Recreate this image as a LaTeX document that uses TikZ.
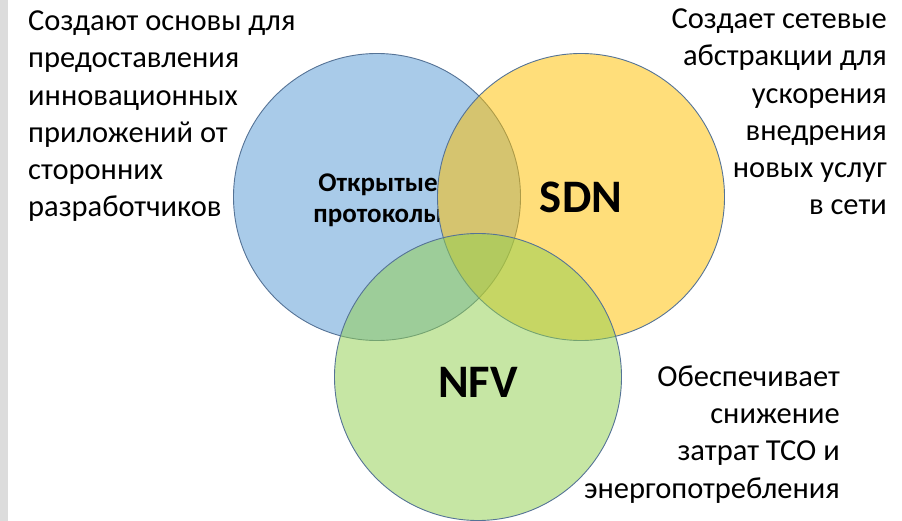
\documentclass[tikz,border=0pt]{standalone}
\usepackage{fontspec}
\setmainfont{Carlito}
\usetikzlibrary{positioning}
\definecolor{apiblue}{HTML}{5B9BD5}
\definecolor{sdnorange}{HTML}{FFC000}
\definecolor{nfvgreen}{HTML}{92D050}
\definecolor{ringline}{RGB}{85,115,150}
\definecolor{stripgray}{HTML}{DCDCDC}
\tikzset{
  ring/.style={circle, draw=ringline, line width=0.9pt, fill opacity=0.52, text opacity=1,
    minimum size=287pt, inner sep=0pt, font=\fontsize{46.6}{50}\selectfont\bfseries},
  note/.style={inner sep=0pt, font=\fontsize{30.5}{37.3}\selectfont},
}

\begin{document}
\begin{tikzpicture}[x=1pt,y=-1pt]
\useasboundingbox (0,0) rectangle (902,521);
\fill[stripgray] (0,0) rectangle (8,521);
% The circles
\node[ring, fill=apiblue] (api) at (377,197) {};
\begin{scope}[even odd rule]
\clip (0,0) rectangle (902,521) (581,197) circle[radius=143.5];
\node[inner sep=0pt, align=center, font=\fontsize{27}{31}\selectfont\bfseries, anchor=base] (open) at (378,223) {Открытые\\протоколы};
\end{scope}
\node[ring, fill=sdnorange] (sdn) at (581,197) {SDN};
\node[ring, fill=nfvgreen, text height=40pt] (nfv) at (478,377) {NFV};
% The notes
\node[note, align=left, anchor=base west] (apinote) at (28,217) {Создают основы для\\предоставления\\инновационных\\приложений от\\сторонних\\разработчиков};
\node[note, align=right, anchor=base east] (sdnnote) at (887,215) {Создает сетевые\\абстракции для\\ускорения\\внедрения\\новых услуг\\в сети};
\node[note, align=right, anchor=base east] (nfvnote) at (840,498) {Обеспечивает\\снижение\\затрат TCO и\\энергопотребления};
\end{tikzpicture}
\end{document}
